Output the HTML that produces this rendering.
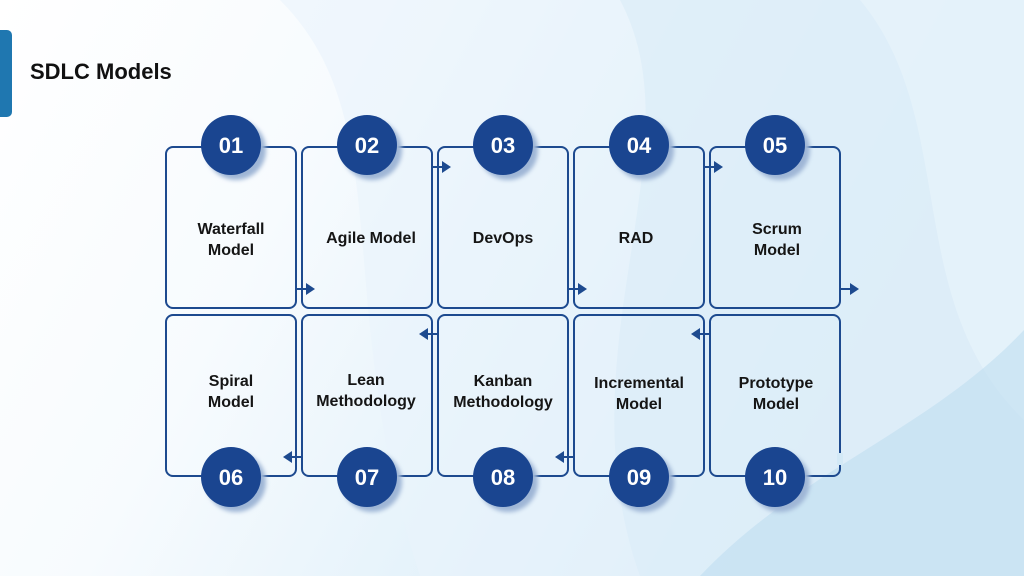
<!DOCTYPE html>
<html><head><meta charset="utf-8"><style>
html,body{margin:0;padding:0}
body{width:1024px;height:576px;overflow:hidden;font-family:"Liberation Sans",sans-serif}
</style></head><body>
<svg width="1024" height="576" viewBox="0 0 1024 576" xmlns="http://www.w3.org/2000/svg">
<defs>
<linearGradient id="bg" x1="0" y1="0" x2="1" y2="0.3">
<stop offset="0" stop-color="#ffffff"/><stop offset="0.35" stop-color="#f7fbfe"/><stop offset="0.7" stop-color="#e2f1fa"/><stop offset="1" stop-color="#cfe7f5"/>
</linearGradient>
<filter id="sh" x="-30%" y="-30%" width="160%" height="160%"><feGaussianBlur stdDeviation="2"/></filter>
</defs>
<rect width="1024" height="576" fill="url(#bg)"/>
<path d="M280 0 C400 120 330 300 420 576 L1024 576 L1024 0 Z" fill="#eaf4fb" opacity="0.6"/>
<path d="M620 0 C700 150 560 350 640 576 L1024 576 L1024 0 Z" fill="#dcedf8" opacity="0.7"/>
<path d="M860 0 C960 120 900 300 1024 420 L1024 0 Z" fill="#e6f2fa" opacity="0.8"/>
<path d="M700 576 C800 470 930 430 1024 330 L1024 576 Z" fill="#bfddf0" opacity="0.6"/>
<rect x="-8" y="30" width="20" height="87" rx="5" fill="#1f77b0"/>
<text x="30" y="79" font-size="22" font-weight="bold" fill="#111">SDLC Models</text>
<g fill="none" stroke="#1d4a8f" stroke-width="2">
<rect x="166" y="147" width="130" height="161" rx="7"/>
<rect x="302" y="147" width="130" height="161" rx="7"/>
<rect x="438" y="147" width="130" height="161" rx="7"/>
<rect x="574" y="147" width="130" height="161" rx="7"/>
<rect x="710" y="147" width="130" height="161" rx="7"/>
<rect x="166" y="315" width="130" height="161" rx="7"/>
<rect x="302" y="315" width="130" height="161" rx="7"/>
<rect x="438" y="315" width="130" height="161" rx="7"/>
<rect x="574" y="315" width="130" height="161" rx="7"/>
<rect x="710" y="315" width="130" height="161" rx="7"/>
<path d="M296 289 H307 M432 167 H443 M568 289 H579 M704 167 H715 M840 289 H851"/>
<path d="M710 334 H699 M574 457 H563 M438 334 H427 M302 457 H291"/>
</g>
<rect x="837" y="453" width="6" height="12" fill="#d3e9f6"/>
<g fill="#1d4a8f">
<path d="M306 283 L315 289 L306 295Z"/><path d="M442 161 L451 167 L442 173Z"/>
<path d="M578 283 L587 289 L578 295Z"/><path d="M714 161 L723 167 L714 173Z"/>
<path d="M850 283 L859 289 L850 295Z"/>
<path d="M700 328 L691 334 L700 340Z"/><path d="M564 451 L555 457 L564 463Z"/>
<path d="M428 328 L419 334 L428 340Z"/><path d="M292 451 L283 457 L292 463Z"/>
</g>
<g>
<g fill="#9fb6d6" filter="url(#sh)">
<circle cx="236" cy="150" r="30"/><circle cx="372" cy="150" r="30"/><circle cx="508" cy="150" r="30"/><circle cx="644" cy="150" r="30"/><circle cx="780" cy="150" r="30"/>
<circle cx="236" cy="482" r="30"/><circle cx="372" cy="482" r="30"/><circle cx="508" cy="482" r="30"/><circle cx="644" cy="482" r="30"/><circle cx="780" cy="482" r="30"/>
</g>
<g fill="#1a4590">
<circle cx="231" cy="145" r="30"/><circle cx="367" cy="145" r="30"/><circle cx="503" cy="145" r="30"/><circle cx="639" cy="145" r="30"/><circle cx="775" cy="145" r="30"/>
<circle cx="231" cy="477" r="30"/><circle cx="367" cy="477" r="30"/><circle cx="503" cy="477" r="30"/><circle cx="639" cy="477" r="30"/><circle cx="775" cy="477" r="30"/>
</g>
<g fill="#fff" font-size="22" font-weight="bold" text-anchor="middle">
<text x="231" y="153">01</text><text x="367" y="153">02</text><text x="503" y="153">03</text><text x="639" y="153">04</text><text x="775" y="153">05</text>
<text x="231" y="485">06</text><text x="367" y="485">07</text><text x="503" y="485">08</text><text x="639" y="485">09</text><text x="775" y="485">10</text>
</g>
</g>
<g fill="#151515" font-size="16" font-weight="bold" text-anchor="middle">
<text x="231" y="234">Waterfall</text><text x="231" y="255">Model</text>
<text x="371" y="243">Agile Model</text>
<text x="503" y="243">DevOps</text>
<text x="636" y="243">RAD</text>
<text x="777" y="234">Scrum</text><text x="777" y="255">Model</text>
<text x="231" y="386">Spiral</text><text x="231" y="407">Model</text>
<text x="366" y="385">Lean</text><text x="366" y="406">Methodology</text>
<text x="503" y="386">Kanban</text><text x="503" y="407">Methodology</text>
<text x="639" y="388">Incremental</text><text x="639" y="409">Model</text>
<text x="776" y="388">Prototype</text><text x="776" y="409">Model</text>
</g>
</svg>
</body></html>
